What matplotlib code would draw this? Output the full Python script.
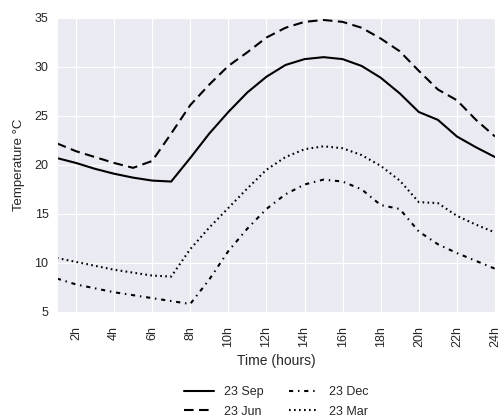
import matplotlib
matplotlib.use('Agg')
import matplotlib.pyplot as plt
import seaborn as sns

hours = list(range(1, 25))
sep_23 = [20.7, 20.2, 19.6, 19.1, 18.7, 18.4, 18.3, 20.7, 23.2, 25.4, 27.4, 29.0,
          30.2, 30.8, 31.0, 30.8, 30.1, 28.9, 27.3, 25.4, 24.6, 22.9, 21.8, 20.8]
jun_23 = [22.2, 21.4, 20.8, 20.2, 19.7, 20.4, 23.2, 26.1, 28.2, 30.1, 31.5, 33.0,
          34.0, 34.6, 34.8, 34.6, 34.0, 32.9, 31.6, 29.6, 27.7, 26.6, 24.6, 22.9]
dec_23 = [8.4, 7.8, 7.4, 7.0, 6.7, 6.4, 6.1, 5.8, 8.3, 11.2, 13.5, 15.5,
          17.0, 18.0, 18.5, 18.3, 17.5, 15.9, 15.5, 13.2, 11.9, 11.0, 10.2, 9.4]
mar_23 = [10.5, 10.1, 9.7, 9.3, 9.0, 8.7, 8.6, 11.4, 13.6, 15.6, 17.6, 19.5,
          20.8, 21.6, 21.9, 21.7, 21.0, 19.9, 18.4, 16.2, 16.1, 14.8, 13.9, 13.1]

xtick_pos = list(range(2, 25, 2))
xtick_labels = ['%dh' % h for h in xtick_pos]

sns.set_style('darkgrid')
plt.rcParams['font.family'] = ['Liberation Sans', 'DejaVu Sans']

fig = plt.figure(figsize=(4.99, 4.18), dpi=100)
ax = fig.add_axes([0.114, 0.254, 0.878, 0.703])

LW = 1.5
ax.plot(hours, sep_23, color='black', linestyle='-', linewidth=LW, label='23 Sep')
ax.plot(hours, jun_23, color='black', linestyle=(0, (4.6, 2.6)), linewidth=LW, label='23 Jun')
ax.plot(hours, dec_23, color='black', linestyle=(0, (2.0, 2.3, 0.7, 2.3)), linewidth=LW, label='23 Dec')
ax.plot(hours, mar_23, color='black', linestyle=(0, (0.8, 1.6)), linewidth=LW, label='23 Mar')

ax.set_xlim(1, 24)
ax.set_ylim(5, 35)
ax.set_xticks(xtick_pos)
ax.set_xticklabels(xtick_labels, rotation=90)
ax.set_yticks(range(5, 36, 5))
ax.tick_params(axis='both', labelsize=9, colors='#262626', length=0)
ax.tick_params(axis='y', pad=6)
ax.tick_params(axis='x', pad=10)
ax.set_xlabel('Time (hours)', fontsize=10, color='#262626', labelpad=5)
ax.set_ylabel('Temperature °C', fontsize=9.5, color='#262626', labelpad=7)

ax.legend(loc='upper center', bbox_to_anchor=(0.5, -0.228), ncol=2, frameon=False,
          fontsize=9, handlelength=2.4, handletextpad=0.8, columnspacing=2.0,
          labelspacing=0.6, borderaxespad=0.2)

fig.savefig('out.png', dpi=100)
